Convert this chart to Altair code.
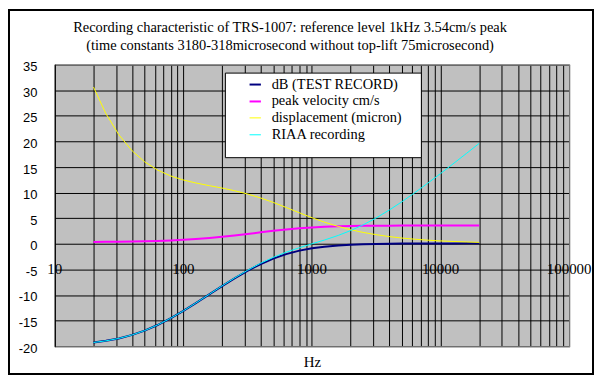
import altair as alt
import pandas as pd

# ---- data ----
freq = [20, 25, 31.5, 40, 50, 63, 80, 100, 125, 160, 200, 250, 315, 400, 500, 630, 800,
        1000, 1250, 1600, 2000, 2500, 3150, 4000, 5000, 6300, 8000, 10000, 12500, 16000, 20000]
db_test = [-19.27, -18.95, -18.48, -17.79, -16.95, -15.86, -14.51, -13.10, -11.58, -9.83,
           -8.26, -6.74, -5.27, -3.94, -2.88, -2.01, -1.33, -0.87, -0.55, -0.31, -0.17,
           -0.08, -0.02, 0.02, 0.05, 0.06, 0.07, 0.08, 0.08, 0.09, 0.09]
velocity = [0.38, 0.40, 0.42, 0.46, 0.50, 0.57, 0.67, 0.78, 0.93, 1.14, 1.37, 1.63, 1.93,
            2.25, 2.54, 2.81, 3.04, 3.20, 3.32, 3.42, 3.47, 3.51, 3.53, 3.55, 3.56, 3.57,
            3.57, 3.57, 3.57, 3.57, 3.58]
displacement = [30.62, 25.42, 21.31, 18.16, 16.02, 14.41, 13.24, 12.47, 11.89, 11.35, 10.89,
                10.38, 9.74, 8.95, 8.09, 7.10, 6.05, 5.10, 4.23, 3.40, 2.76, 2.23, 1.79,
                1.41, 1.13, 0.90, 0.71, 0.57, 0.46, 0.36, 0.28]
riaa = [-19.27, -18.95, -18.48, -17.79, -16.95, -15.85, -14.51, -13.09, -11.56, -9.81,
        -8.22, -6.68, -5.18, -3.78, -2.65, -1.64, -0.75, 0.00, 0.74, 1.64, 2.59, 3.70,
        5.04, 6.61, 8.21, 9.98, 11.89, 13.73, 15.61, 17.71, 19.62]

names = ["dB (TEST RECORD)", "peak velocity cm/s", "displacement (micron)", "RIAA recording"]
decades = [10, 100, 1000, 10000, 100000]
y_ticks = [-20, -15, -10, -5, 0, 5, 10, 15, 20, 25, 30, 35]
title_lines = ["Recording characteristic of TRS-1007: reference level 1kHz 3.54cm/s peak",
               "(time constants 3180-318microsecond without top-lift 75microsecond)"]

# ---- styles ----
colors = ["#000080", "#FF00FF", "#FFFF00", "#00FFFF"]
widths = [2, 2, 1, 1]
W, H = 517, 283
SERIF = "Liberation Serif"
SANS = "Liberation Sans"

rows = []
for name, vals in zip(names, [db_test, velocity, displacement, riaa]):
    for f, v in zip(freq, vals):
        rows.append({"freq": f, "value": v, "series": name})
df = pd.DataFrame(rows)
# x-axis labels sit on the y = 0 line
lab_df = pd.DataFrame({"freq": decades, "value": [0] * len(decades),
                       "label": [str(d) for d in decades]})
one = pd.DataFrame({"k": [0]})

xscale = alt.Scale(type="log", domain=[10, 100000], nice=False)
yscale = alt.Scale(domain=[-20, 35], nice=False, zero=False)
grid_x = [m * 10 ** e for e in range(1, 5) for m in range(1, 10)] + [100000]

xaxis = alt.Axis(values=grid_x, grid=True, gridColor="black", gridOpacity=1,
                 gridWidth=1, labels=False, ticks=False, domain=False,
                 title="Hz", titleFont=SERIF, titleFontSize=15,
                 titleFontWeight="normal", titleColor="black",
                 titleBaseline="alphabetic", titleY=20)
yaxis = alt.Axis(values=y_ticks, grid=True, gridColor="black",
                 gridOpacity=1, gridWidth=1, domain=False, ticks=False,
                 labelFont=SANS, labelFontSize=13, labelColor="black",
                 labelPadding=18, labelOffset=2, labelOverlap=False, title=None,
                 labelExpr="datum.value < 0 ? '-' + abs(datum.value) : '' + datum.value")

leg = alt.Legend(orient="none", legendX=191, legendY=9.5, title=None,
                 symbolType="M-0.6,0H0.6", symbolSize=361,
                 labelFont=SERIF, labelFontSize=14.5, labelColor="black",
                 labelOffset=6, rowPadding=0, padding=0, labelLimit=0)

frame = alt.Chart(one).mark_rect(filled=False, stroke="black", strokeWidth=2).encode(
    x=alt.value(-46), x2=alt.value(W + 24), y=alt.value(-55), y2=alt.value(H + 28))

legbox = alt.Chart(one).mark_rect(fill="white", stroke="black", strokeWidth=1).encode(
    x=alt.value(171.5), x2=alt.value(368.5), y=alt.value(8.5), y2=alt.value(93.5))

lines = alt.Chart(df).mark_line().encode(
    x=alt.X("freq:Q", scale=xscale, axis=xaxis),
    y=alt.Y("value:Q", scale=yscale, axis=yaxis),
    color=alt.Color("series:N", scale=alt.Scale(domain=names, range=colors), legend=leg),
    strokeWidth=alt.StrokeWidth("series:N",
                                scale=alt.Scale(type="ordinal", domain=names, range=widths),
                                legend=None),
)

b_top = alt.Chart(one).mark_rule(color="#808080", strokeWidth=1).encode(
    x=alt.value(0), x2=alt.value(W + 1), y=alt.value(0.5))
b_right = alt.Chart(one).mark_rule(color="#808080", strokeWidth=1).encode(
    x=alt.value(W + 0.5), y=alt.value(0), y2=alt.value(H + 1))
b_bottom = alt.Chart(one).mark_rule(color="#808080", strokeWidth=1).encode(
    x=alt.value(0), x2=alt.value(W + 1), y=alt.value(H + 0.5))
b_left = alt.Chart(one).mark_rule(color="black", strokeWidth=1).encode(
    x=alt.value(0.5), y=alt.value(0), y2=alt.value(H + 1))

xlabels = alt.Chart(lab_df).mark_text(font=SERIF, fontSize=15, baseline="alphabetic",
                                      align="center", dy=30, color="black").encode(
    x=alt.X("freq:Q", scale=xscale, axis=xaxis),
    y=alt.Y("value:Q", scale=yscale, axis=yaxis),
    text="label:N")

title = alt.Chart(one).mark_text(font=SERIF, fontSize=14.5, align="center",
                                 baseline="alphabetic", lineHeight=18, color="black").encode(
    x=alt.value(236.5), y=alt.value(-33), text=alt.value(title_lines))

chart = alt.layer(frame, legbox, lines, b_top, b_right, b_bottom, b_left, xlabels, title).properties(
    width=W, height=H,
    padding={"left": 47, "top": 56, "right": 25, "bottom": 29},
    autosize=alt.AutoSizeParams(type="none"),
    background="white",
).configure_view(fill="#C0C0C0", strokeWidth=0).configure_legend(
    labelFont=SERIF, labelFontSize=14.5, labelColor="black", labelOffset=6,
    labelLimit=0, rowPadding=0, padding=0, symbolSize=361, symbolType="M-0.6,0H0.6",
    symbolStrokeWidth=2
)

chart.save("out.html", embed_options={"renderer": "svg", "actions": False})
